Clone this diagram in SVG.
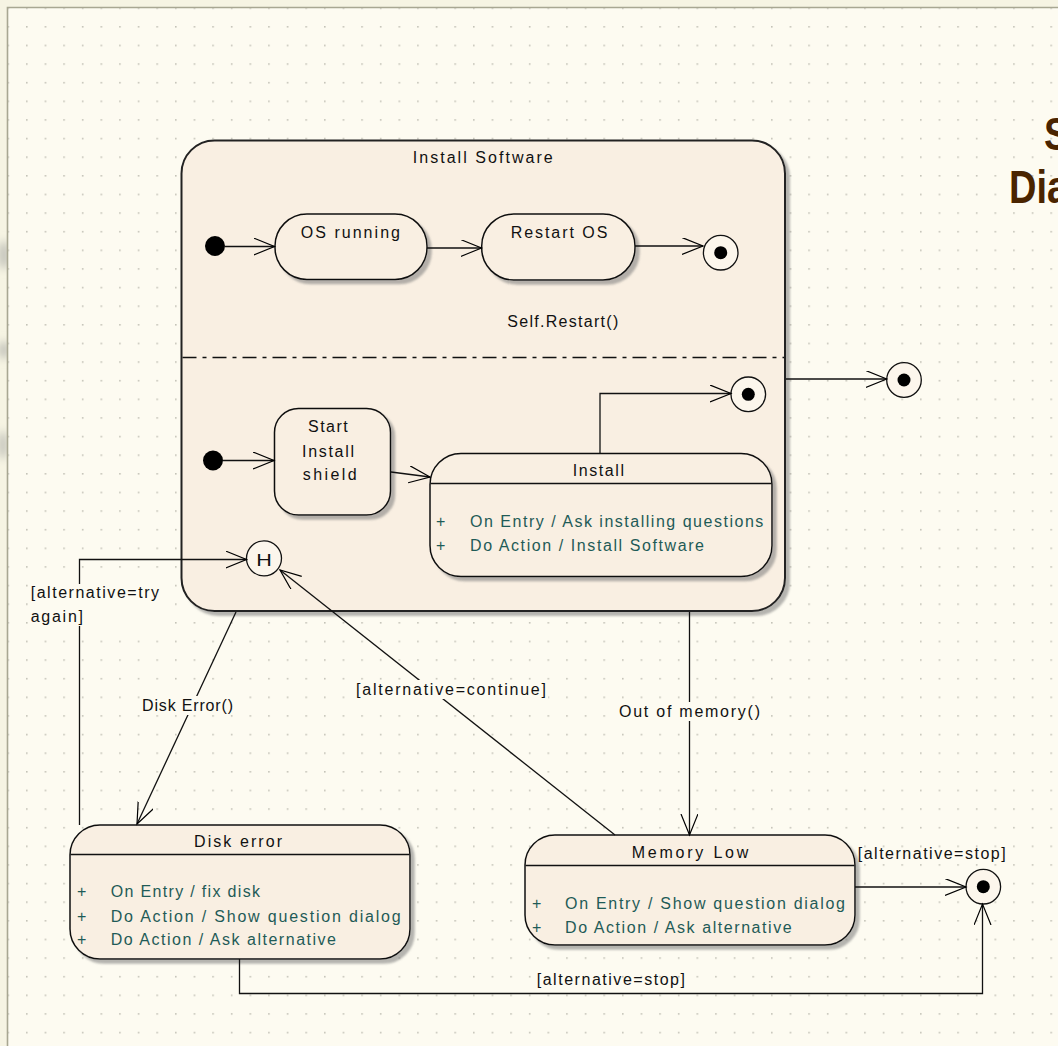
<svg xmlns="http://www.w3.org/2000/svg" width="1058" height="1046" viewBox="0 0 1058 1046">
  <defs>
    <pattern id="grid" x="26" y="26" width="18.625" height="18.625" patternUnits="userSpaceOnUse">
      <rect x="0" y="0" width="1.6" height="1.6" fill="#c4c3b8"/>
    </pattern>
    <filter id="shadow" x="-5%" y="-5%" width="115%" height="115%">
      <feDropShadow dx="4" dy="4" stdDeviation="1" flood-color="#7a7a7a" flood-opacity="0.55"/>
    </filter>
    <filter id="smudge" x="-50%" y="-50%" width="200%" height="200%">
      <feGaussianBlur stdDeviation="4"/>
    </filter>
    <marker id="open" markerUnits="userSpaceOnUse" markerWidth="24" markerHeight="20" refX="21" refY="8.5" orient="auto">
      <path d="M0,0 L21,8.5 L0,17" fill="none" stroke="#000" stroke-width="1.2"/>
    </marker>
    <clipPath id="margin"><rect x="0" y="0" width="7" height="1046"/></clipPath>
    <style>
      text { font-family: "Liberation Sans", Arial, sans-serif; font-size: 16px; fill: #111; }
      .act { fill: #1f5b57; }
      .title { font-weight: bold; font-size: 38px; fill: #4a2400; }
      .state { fill: #f9efe2; stroke: #111; stroke-width: 1.5; }
      .comp { fill: #f9efe2; stroke: #222; stroke-width: 2; }
      .sep { stroke: #111; stroke-width: 1.3; }
      .edge { fill: none; stroke: #111; stroke-width: 1.3; marker-end: url(#open); }
      .init { fill: #000; }
      .final { fill: #fcf6ec; stroke: #111; stroke-width: 1.3; }
      .lblbg { fill: #fdfbf1; }
    </style>
  </defs>

  <!-- page background, margin and dotted grid -->
  <rect x="0" y="0" width="1058" height="1046" fill="#f6f4e3"/>
  <g clip-path="url(#margin)" filter="url(#smudge)" fill="#c4c4bb">
    <ellipse cx="4" cy="255" rx="6" ry="14"/>
    <ellipse cx="4" cy="350" rx="6" ry="9"/>
    <ellipse cx="3" cy="445" rx="5" ry="14"/>
  </g>
  <rect x="8" y="8" width="1050" height="1038" fill="#fdfbf1"/>
  <rect x="8" y="8" width="1050" height="1038" fill="url(#grid)"/>
  <path d="M7.5,1046 V7.5 H1058" fill="none" stroke="#a8a792" stroke-width="1.6"/>

  <!-- diagram title -->
  <g id="title">
    <text class="title" transform="translate(1044,150) scale(1,1.2)">S</text>
    <text class="title" transform="translate(1009,203) scale(1,1.2)">Dia</text>
  </g>

  <!-- composite state with two concurrent regions -->
  <g id="install-software">
    <rect class="comp" x="181.5" y="140.5" width="603.5" height="470.5" rx="33" filter="url(#shadow)"/>
    <text x="412.7" y="163" textLength="140" lengthAdjust="spacing">Install Software</text>
    <line x1="182.5" y1="357.5" x2="784" y2="357.5" stroke="#111" stroke-width="1.4" stroke-dasharray="14 6 4 6"/>
    <text x="507.3" y="327" textLength="111" lengthAdjust="spacing">Self.Restart()</text>
  </g>

  <g id="initial-1"><circle class="init" cx="215" cy="246" r="10"/></g>
  <g id="os-running">
    <rect class="state" x="275" y="214" width="152" height="65.5" rx="32" filter="url(#shadow)"/>
    <text x="300.7" y="238" textLength="99.3" lengthAdjust="spacing">OS running</text>
  </g>
  <g id="restart-os">
    <rect class="state" x="481.7" y="214" width="153.3" height="66" rx="32" filter="url(#shadow)"/>
    <text x="510.7" y="238" textLength="96.6" lengthAdjust="spacing">Restart OS</text>
  </g>
  <g id="final-1">
    <circle class="final" cx="720.7" cy="252.7" r="17.3"/>
    <circle class="init" cx="720.7" cy="252.7" r="6.5"/>
  </g>

  <g id="initial-2"><circle class="init" cx="213" cy="460.5" r="10"/></g>
  <g id="start-install-shield">
    <rect class="state" x="274.5" y="408.5" width="116" height="106.5" rx="24" filter="url(#shadow)"/>
    <text x="308" y="431.5" textLength="39.7" lengthAdjust="spacing">Start</text>
    <text x="302" y="456.5" textLength="52" lengthAdjust="spacing">Install</text>
    <text x="302.7" y="480" textLength="54" lengthAdjust="spacing">shield</text>
  </g>
  <g id="install">
    <rect class="state" x="430" y="453.5" width="342" height="123" rx="31" filter="url(#shadow)"/>
    <line class="sep" x1="430.5" y1="483.5" x2="771.5" y2="483.5"/>
    <text x="572.7" y="476" textLength="51.3" lengthAdjust="spacing">Install</text>
    <text class="act" x="436" y="526.5">+</text>
    <text class="act" x="470" y="526.5" textLength="293.3" lengthAdjust="spacing">On Entry / Ask installing questions</text>
    <text class="act" x="436" y="550.5">+</text>
    <text class="act" x="470" y="550.5" textLength="234" lengthAdjust="spacing">Do Action / Install Software</text>
  </g>
  <g id="final-2">
    <circle class="final" cx="748.3" cy="394.3" r="17.3"/>
    <circle class="init" cx="748.3" cy="394.3" r="6.5"/>
  </g>
  <g id="history">
    <circle class="final" cx="264" cy="558.3" r="17.5" fill="#fdfbf5"/>
    <text transform="translate(264,565.5) scale(1.35,1)" text-anchor="middle" font-size="18">H</text>
  </g>

  <g id="final-3">
    <circle class="final" cx="904" cy="380" r="17.3"/>
    <circle class="init" cx="904" cy="380" r="6.5"/>
  </g>

  <g id="disk-error">
    <rect class="state" x="70" y="825" width="340" height="134" rx="30" filter="url(#shadow)"/>
    <line class="sep" x1="70.5" y1="854.5" x2="409.5" y2="854.5"/>
    <text x="194" y="846.5" textLength="88" lengthAdjust="spacing">Disk error</text>
    <text class="act" x="77" y="897">+</text>
    <text class="act" x="110.7" y="897" textLength="149.3" lengthAdjust="spacing">On Entry / fix disk</text>
    <text class="act" x="77" y="921.5">+</text>
    <text class="act" x="110.7" y="921.5" textLength="290" lengthAdjust="spacing">Do Action / Show question dialog</text>
    <text class="act" x="77" y="945">+</text>
    <text class="act" x="110.7" y="945" textLength="225.3" lengthAdjust="spacing">Do Action / Ask alternative</text>
  </g>

  <g id="memory-low">
    <rect class="state" x="525" y="835" width="330" height="110" rx="30" filter="url(#shadow)"/>
    <line class="sep" x1="525.5" y1="865.5" x2="854.5" y2="865.5"/>
    <text x="631.7" y="858" textLength="116.6" lengthAdjust="spacing">Memory Low</text>
    <text class="act" x="532" y="909">+</text>
    <text class="act" x="565" y="909" textLength="280" lengthAdjust="spacing">On Entry / Show question dialog</text>
    <text class="act" x="532" y="933">+</text>
    <text class="act" x="565" y="933" textLength="226.7" lengthAdjust="spacing">Do Action / Ask alternative</text>
  </g>

  <g id="final-4">
    <circle class="final" cx="983.3" cy="886.7" r="17.3"/>
    <circle class="init" cx="983.3" cy="886.7" r="6.5"/>
  </g>

  <!-- transitions -->
  <g id="connectors">
    <path class="edge" d="M225,246.5 H274.5"/>
    <path class="edge" d="M427,248 H481.5"/>
    <path class="edge" d="M635,246 H703"/>
    <path class="edge" d="M223,460.5 H274"/>
    <path class="edge" d="M391,472 L430,477"/>
    <path class="edge" d="M600,453 V393.5 H731"/>
    <path class="edge" d="M786,379 H886.7"/>
    <path class="edge" d="M79.5,825 V559.5 H246.5"/>
    <path class="edge" d="M236,612 L137,824"/>
    <path class="edge" d="M615,835 L280,570"/>
    <path class="edge" d="M689.5,612 V835"/>
    <path class="edge" d="M855,887 H966"/>
    <path class="edge" d="M239.5,959 V993.5 H982.5 V904"/>

    <!-- transition labels -->
    <rect class="lblbg" x="28" y="584" width="134" height="42"/>
    <text x="30.7" y="598" textLength="128.3" lengthAdjust="spacing">[alternative=try</text>
    <text x="30.7" y="621.7" textLength="52.3" lengthAdjust="spacing">again]</text>
    <rect class="lblbg" x="140" y="696" width="96" height="19"/>
    <text x="142" y="711" textLength="91" lengthAdjust="spacing">Disk Error()</text>
    <rect class="lblbg" x="354" y="680" width="194" height="19"/>
    <text x="356" y="695" textLength="190" lengthAdjust="spacing">[alternative=continue]</text>
    <rect class="lblbg" x="617" y="702" width="145" height="19"/>
    <text x="619" y="717" textLength="141" lengthAdjust="spacing">Out of memory()</text>
    <text x="857.7" y="859" textLength="148" lengthAdjust="spacing">[alternative=stop]</text>
    <text x="536.7" y="985" textLength="148.3" lengthAdjust="spacing">[alternative=stop]</text>
  </g>
</svg>
